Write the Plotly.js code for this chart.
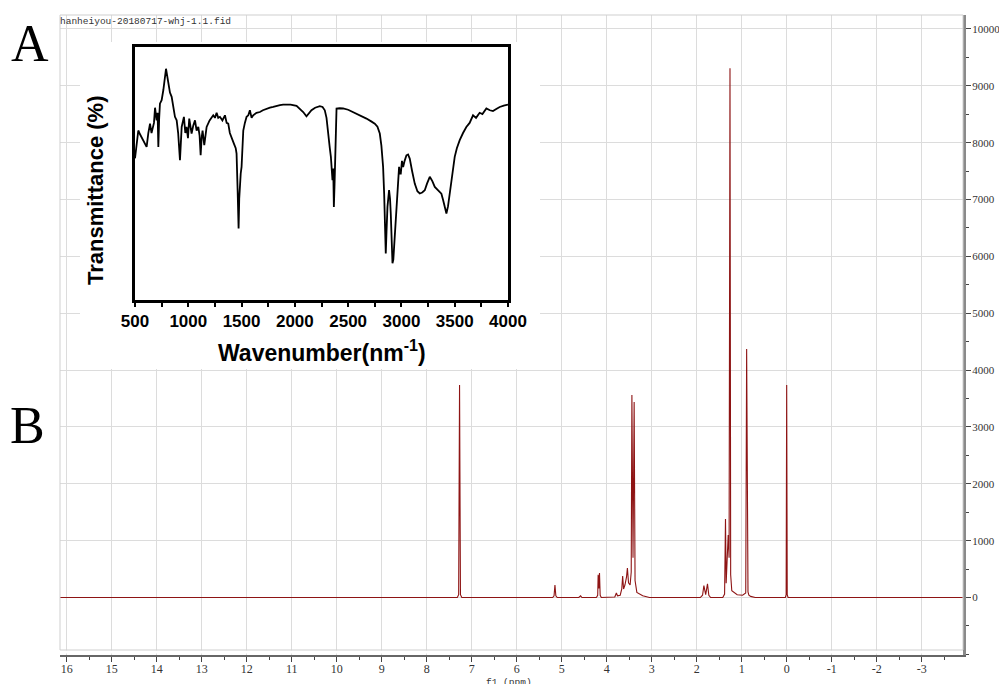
<!DOCTYPE html>
<html><head><meta charset="utf-8">
<script src="https://cdn.plot.ly/plotly-3.0.1.min.js"></script>
<style>html,body{margin:0;padding:0;background:#fff}#chart{width:999px;height:684px}</style>
</head><body><div id="chart"></div>
<script>
// ---- 1H NMR spectrum (panel B) ----
const nmrShift = [16.15, 7.32, 7.29, 7.27, 7.25, 7.22,
  5.20, 5.17, 5.15, 5.13, 5.10,
  4.62, 4.58, 4.55,
  4.23, 4.20, 4.19, 4.175, 4.16, 4.145, 4.12,
  3.82, 3.785, 3.76, 3.70, 3.665, 3.645, 3.625, 3.595, 3.56, 3.54, 3.515, 3.48, 3.455, 3.44, 3.415, 3.39, 3.37, 3.33, 3.20, 3.05,
  1.92, 1.87, 1.84, 1.80, 1.76, 1.73, 1.69,
  1.42, 1.38, 1.36, 1.345, 1.30, 1.28, 1.26, 1.245, 1.22, 1.10, 0.98, 0.93, 0.91, 0.89, 0.875, 0.86, 0.84, 0.80, 0.70,
  0.03, 0.012, 0.0, -0.012, -0.03, -3.92];
const nmrIntensity = [0, 0, 50, 3740, 50, 0,
  0, 30, 220, 30, 0,
  0, 30, 0,
  0, 40, 400, 160, 430, 40, 0,
  10, 80, 30, 40, 150, 380, 150, 220, 360, 520, 260, 220, 450, 3560, 700, 3440, 300, 90, 30, 0,
  0, 40, 210, 50, 240, 40, 0,
  0, 60, 1380, 250, 1100, 700, 9310, 400, 120, 50, 40, 60, 80, 4370, 660, 100, 40, 20, 0,
  0, 50, 3740, 50, 0, 0];
const shiftTicks = [16,15,14,13,12,11,10,9,8,7,6,5,4,3,2,1,0,-1,-2,-3];
const shiftTickLabels = ['16','15','14','13','12','11','10','9','8','7','6','5','4','3','2','1','0','-1','-2','-3'];
const intensityTicks = [0,1000,2000,3000,4000,5000,6000,7000,8000,9000,10000];
const intensityTickLabels = ['0','1000','2000','3000','4000','5000','6000','7000','8000','9000','10000'];

// ---- FT-IR spectrum (panel A inset) ----
const irWavenumber = [500,510,531,547,565,590,609,625,641,655,666,678,688,703,712,719,727,734,750,766,791,800,813,828,844,860,875,891,905,922,938,959,972,984,997,1009,1020,1031,1047,1063,1078,1094,1106,1116,1125,1134,1150,1162,1172,1200,1234,1250,1266,1281,1297,1320,1344,1360,1375,1390,1406,1428,1445,1453,1463,1472,1478,1484,1492,1500,1508,1516,1531,1547,1563,1578,1594,1609,1640,1672,1700,1730,1766,1797,1830,1860,1890,1922,1960,2016,2050,2078,2109,2130,2156,2190,2234,2260,2281,2297,2313,2328,2338,2353,2360,2366,2372,2378,2385,2391,2420,2453,2500,2547,2600,2672,2720,2750,2775,2797,2812,2828,2838,2844,2853,2860,2869,2884,2893,2900,2908,2916,2924,2931,2940,2953,2965,2978,2986,2994,3005,3016,3030,3047,3062,3078,3100,3125,3150,3172,3195,3219,3240,3266,3290,3313,3340,3359,3375,3391,3406,3422,3437,3453,3475,3500,3520,3547,3578,3609,3640,3672,3700,3734,3760,3797,3830,3859,3890,3922,3960,3994,4000];
const irTransmittance = [56,60,67,65.5,64,62,60.5,66,69.7,66,68,70,76,71,74,60.5,72,77.6,79,83,91.4,89,86.8,82,80.3,76,72.4,71,66,55.3,68.4,72.4,66,68.4,64,71.7,68,65.8,69,71,67,68.4,65,57.2,64,67,61.2,66,68.4,71,73,72,74,72,72.4,71,73,70,69.7,66,64.5,61.8,60,57.9,43.4,28.3,40,47.4,50,52.6,62,67,70,72.4,73,75,72,73,74,74.3,75,75.5,76,76.3,76.8,77,77.2,77.2,77.2,76.7,75.5,74.3,72.6,73.5,75,76,76.6,76.3,75,72,64.5,60,56.6,47.4,52,36.8,45,52.6,65,75.7,75.8,75.7,75.2,74.3,73.3,71.7,70.5,69.7,68.5,65.8,61,52.6,42,28.9,18.4,27,36.8,43.4,40,34.2,24,14.5,16,21,26,32.9,44,52.6,50,50,55,52.6,55,57.2,57.5,55.9,51,46,43,42.1,42.5,43.4,46,48.7,47,44.7,43.5,42.8,42,39.5,37,34.2,37,42.1,49,56.6,60,63.2,66,68.4,70,73,72,74,73.5,75.7,75,74.7,75.5,76.3,76.8,77.2,77.2];
const irTicks = [500,1000,1500,2000,2500,3000,3500,4000];
const irTickLabels = ['500','1000','1500','2000','2500','3000','3500','4000'];

const fileName = 'hanheiyou-20180717-whj-1.1.fid';
const panelA = 'A', panelB = 'B';
const xTitle = 'f1 (ppm)';
const irYTitle = 'Transmittance (%)';
const irXTitle = 'Wavenumber(nm<sup>-1</sup>)';

// ---- geometry helpers (pixels -> paper) ----
const W = 999, H = 684, M = {l:60, r:36, t:15, b:29};
const PW = W - M.l - M.r, PH = H - M.t - M.b;
const px = x => (x - M.l) / PW;
const py = y => (H - M.b - y) / PH;

const serif = 'Liberation Serif, Times New Roman, serif';
const sans = 'Liberation Sans, Arial, sans-serif';
const mono = 'Liberation Mono, monospace';

const traces = [
  {type:'scatter', mode:'lines', x:nmrShift, y:nmrIntensity, xaxis:'x', yaxis:'y',
   line:{color:'#8e1414', width:1.1}, hoverinfo:'skip', showlegend:false},
  {type:'scatter', mode:'lines', x:[], y:[], xaxis:'x2', yaxis:'y2', hoverinfo:'skip', showlegend:false},
  {type:'scatter', mode:'lines', x:irWavenumber, y:irTransmittance, xaxis:'x3', yaxis:'y3',
   line:{color:'#000', width:1.8}, hoverinfo:'skip', showlegend:false}
];

const layout = {
  width: W, height: H, margin: M,
  paper_bgcolor:'#fff', plot_bgcolor:'#fff', showlegend:false,
  xaxis: {domain:[0,1], anchor:'y', range:[16.149,-3.918], autorange:false,
    tickmode:'array', tickvals:shiftTicks, ticktext:shiftTickLabels,
    ticks:'outside', ticklen:5, tickwidth:1, tickcolor:'#444', ticklabelstandoff:-3,
    minor:{tickmode:'linear', tick0:0, dtick:0.5, ticklen:3, tickwidth:1, tickcolor:'#444', showgrid:false},
    showline:true, linecolor:'#666', linewidth:2,
    showgrid:true, gridcolor:'#dcdcdc', gridwidth:1, zeroline:false,
    tickfont:{family:serif, size:12, color:'#333'}},
  yaxis: {domain:[0,1], anchor:'x', side:'right', range:[-1011,10246], autorange:false,
    tickmode:'array', tickvals:intensityTicks, ticktext:intensityTickLabels,
    ticks:'outside', ticklen:5, tickwidth:1, tickcolor:'#444', ticklabelstandoff:-1,
    minor:{tickmode:'linear', tick0:0, dtick:500, ticklen:3, tickwidth:1, tickcolor:'#444', showgrid:false},
    showline:true, linecolor:'#8a8a8a', linewidth:3,
    showgrid:true, gridcolor:'#dcdcdc', gridwidth:1, zeroline:false,
    tickfont:{family:serif, size:11, color:'#333'}},
  xaxis2: {domain:[px(80), px(540)], anchor:'y2', range:[0,1], showgrid:false, zeroline:false,
    showticklabels:false, ticks:'', showline:false},
  yaxis2: {domain:[py(369), py(42)], anchor:'x2', range:[0,1], showgrid:false, zeroline:false,
    showticklabels:false, ticks:'', showline:false},
  xaxis3: {domain:[px(135), px(508)], anchor:'y3', range:[500,4000], autorange:false,
    tickmode:'array', tickvals:irTicks, ticktext:irTickLabels,
    ticks:'outside', ticklen:4, tickwidth:2, tickcolor:'#000',
    minor:{tickmode:'linear', tick0:500, dtick:250, ticklen:4, tickwidth:2, tickcolor:'#000', showgrid:false},
    showline:true, mirror:true, linecolor:'#000', linewidth:3,
    showgrid:false, zeroline:false,
    tickfont:{family:sans, size:17, color:'#000', weight:'bold'}},
  yaxis3: {domain:[py(300), py(47)], anchor:'x3', range:[0,100], autorange:false,
    showline:true, mirror:true, linecolor:'#000', linewidth:3,
    ticks:'', showticklabels:false, showgrid:false, zeroline:false},
  shapes: [
    {type:'rect', xref:'paper', yref:'paper', x0:0, x1:0.997, y0:py(653.6), y1:py(650.5),
     fillcolor:'#fff', line:{width:0}, layer:'above'},
    {type:'rect', xref:'paper', yref:'paper', x0:0, x1:1, y0:py(650), y1:1,
     fillcolor:'rgba(0,0,0,0)', line:{color:'#cfcfcf', width:1}, layer:'above'}
  ],
  annotations: [
    {text:fileName, xref:'paper', yref:'paper', x:px(58), y:py(21), xanchor:'left', yanchor:'middle',
     showarrow:false, font:{family:mono, size:9.5, color:'#333'}},
    {text:panelA, xref:'paper', yref:'paper', x:px(30), y:py(44), xanchor:'center', yanchor:'middle',
     showarrow:false, font:{family:serif, size:52, color:'#000'}},
    {text:panelB, xref:'paper', yref:'paper', x:px(27), y:py(425), xanchor:'center', yanchor:'middle',
     showarrow:false, font:{family:serif, size:52, color:'#000'}},
    {text:xTitle, xref:'paper', yref:'paper', x:px(509), y:py(682), xanchor:'center', yanchor:'middle',
     showarrow:false, font:{family:mono, size:9.5, color:'#333'}},
    {text:irYTitle, xref:'paper', yref:'paper', x:px(95), y:py(190), xanchor:'center', yanchor:'middle',
     textangle:-90, showarrow:false, font:{family:sans, size:22, color:'#000', weight:'bold'}},
    {text:irXTitle, xref:'paper', yref:'paper', x:px(322), y:py(351), xanchor:'center', yanchor:'middle',
     showarrow:false, font:{family:sans, size:23, color:'#000', weight:'bold'}}
  ]
};

Plotly.newPlot('chart', traces, layout, {staticPlot:true, displayModeBar:false});
</script>
</body></html>
